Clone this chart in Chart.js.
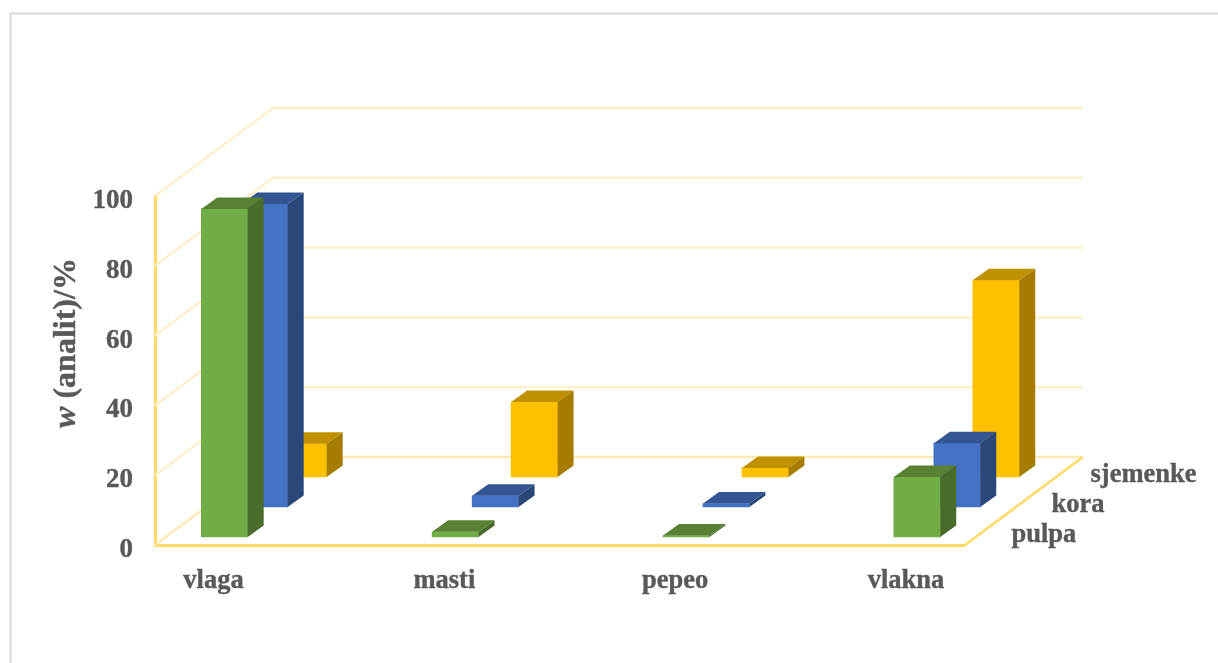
<!DOCTYPE html>
<html>
<head>
<meta charset="utf-8">
<title>w (analit)</title>
<script src="https://cdn.jsdelivr.net/npm/chart.js@4"></script>
<style>
  html, body { margin: 0; background: #fff; }
  canvas { display: block; }
</style>
</head>
<body>
<canvas id="grafikon" width="1218" height="663"></canvas>
<script>
const kategorije = ['vlaga', 'masti', 'pepeo', 'vlakna'];
const serije = ['pulpa', 'kora', 'sjemenke'];
const pulpa = [94, 1.5, 0.4, 17.2];
const kora = [86.8, 3.2, 1, 18.3];
const sjemenke = [9.5, 21.5, 2.6, 56.4];
const yTicks = [0, 20, 40, 60, 80, 100];

const boje = ['#70AD47', '#4472C4', '#FFC000'];
const bojeVrh = ['#588134', '#335693', '#BF9000'];
const bojeBok = ['#4A6C2A', '#2A4779', '#A67C00'];
// pomak svake serije u dubinu
const pomakX = [11, 51, 90];
const pomakY = [-8, -38, -68];
const dubinaX = 118, dubinaY = -88;
const bokX = 16, bokY = -11.5;
const sivo = '#595959';
const font = 'Liberation Serif';

const treciD = {
  id: 'treciD',
  beforeDraw(chart) {
    const c = chart.ctx;
    c.save();
    c.strokeStyle = '#D9D9D9';
    c.lineWidth = 2;
    c.strokeRect(10.5, 13.5, 1400, 900);
    c.restore();
  },
  beforeDatasetsDraw(chart) {
    const c = chart.ctx, y = chart.scales.y, a = chart.chartArea;
    c.save();
    c.lineWidth = 2.5;
    yTicks.forEach(t => {
      const py = y.getPixelForValue(t);
      c.strokeStyle = t === 0 ? '#FFE9B5' : '#FFEFCC';
      c.beginPath();
      c.moveTo(a.left, py);
      c.lineTo(a.left + dubinaX, py + dubinaY);
      c.lineTo(a.right + dubinaX, py + dubinaY);
      c.stroke();
    });
    // desni rub poda
    c.strokeStyle = '#FFD966';
    c.beginPath();
    c.moveTo(a.right, a.bottom);
    c.lineTo(a.right + dubinaX, a.bottom + dubinaY);
    c.stroke();
    c.restore();
  },
  beforeDatasetDraw(chart, args) {
    const c = chart.ctx;
    c.save();
    c.translate(pomakX[args.index], pomakY[args.index]);
  },
  afterDatasetDraw(chart, args) {
    const c = chart.ctx, i = args.index;
    chart.getDatasetMeta(i).data.forEach(bar => {
      const l = bar.x - bar.width / 2, r = bar.x + bar.width / 2;
      c.fillStyle = bojeVrh[i];
      c.beginPath();
      c.moveTo(l, bar.y);
      c.lineTo(l + bokX, bar.y + bokY);
      c.lineTo(r + bokX, bar.y + bokY);
      c.lineTo(r, bar.y);
      c.closePath();
      c.fill();
      c.fillStyle = bojeBok[i];
      c.beginPath();
      c.moveTo(r, bar.y);
      c.lineTo(r + bokX, bar.y + bokY);
      c.lineTo(r + bokX, bar.base + bokY);
      c.lineTo(r, bar.base);
      c.closePath();
      c.fill();
    });
    c.restore();
  },
  afterDraw(chart) {
    const c = chart.ctx, a = chart.chartArea;
    c.save();
    c.fillStyle = sivo;
    c.strokeStyle = sivo;
    c.lineWidth = 0.4;
    c.textBaseline = 'middle';
    c.textAlign = 'left';
    c.font = 'bold 26.5px "' + font + '"';
    serije.forEach((s, i) => {
      const tx = a.right + 35.5 + pomakX[i], ty = a.bottom - 2 + pomakY[i];
      c.fillText(s, tx, ty);
      c.strokeText(s, tx, ty);
    });
    // naslov osi y, w je kurziv
    c.translate(67, 343);
    c.rotate(-Math.PI / 2);
    const dio1 = 'w', dio2 = ' (analit)/%';
    c.font = 'italic bold 32px "' + font + '"';
    const w1 = c.measureText(dio1).width;
    c.font = 'bold 32px "' + font + '"';
    const w2 = c.measureText(dio2).width;
    const start = -(w1 + w2) / 2;
    c.fillText(dio2, start + w1, 0);
    c.strokeText(dio2, start + w1, 0);
    c.font = 'italic bold 32px "' + font + '"';
    c.fillText(dio1, start, 0);
    c.strokeText(dio1, start, 0);
    c.restore();
  }
};

const napraviSeriju = (naziv, vrijednosti, i) => ({
  label: naziv,
  data: vrijednosti.map((v, k) => ({ x: k, y: v })),
  backgroundColor: boje[i],
  borderWidth: 0,
  barThickness: 46.4,
  grouped: false,
  clip: false
});

new Chart(document.getElementById('grafikon').getContext('2d'), {
  type: 'bar',
  data: {
    datasets: [
      napraviSeriju(serije[0], pulpa, 0),
      napraviSeriju(serije[1], kora, 1),
      napraviSeriju(serije[2], sjemenke, 2)
    ]
  },
  plugins: [treciD],
  options: {
    responsive: false,
    animation: false,
    layout: { padding: { left: 0, right: 253, top: 196, bottom: 0 } },
    plugins: { legend: { display: false }, title: { display: false }, tooltip: { enabled: false } },
    scales: {
      x: {
        type: 'linear',
        offset: false,
        min: -0.2534,
        max: 3.2554,
        afterBuildTicks: s => { s.ticks = kategorije.map((k, i) => ({ value: i })); },
        afterFit: s => { s.height = 118; },
        grid: { display: false, drawTicks: false },
        border: { display: true, color: '#FFD966', width: 3 },
        ticks: {
          callback: v => kategorije[v],
          autoSkip: false,
          maxRotation: 0,
          padding: 20,
          color: sivo,
          textStrokeColor: sivo,
          textStrokeWidth: 0.4,
          font: { family: font, size: 26.5, weight: 'bold' }
        }
      },
      y: {
        min: 0,
        max: 100,
        afterBuildTicks: s => { s.ticks = yTicks.map(v => ({ value: v })); },
        afterFit: s => { s.width = 155; },
        grid: { display: false, drawTicks: false },
        border: { display: true, color: '#FFD966', width: 3 },
        ticks: {
          padding: 22,
          labelOffset: 5,
          color: sivo,
          textStrokeColor: sivo,
          textStrokeWidth: 0.4,
          font: { family: font, size: 27, weight: 'bold' }
        }
      }
    }
  }
});
</script>
</body>
</html>
